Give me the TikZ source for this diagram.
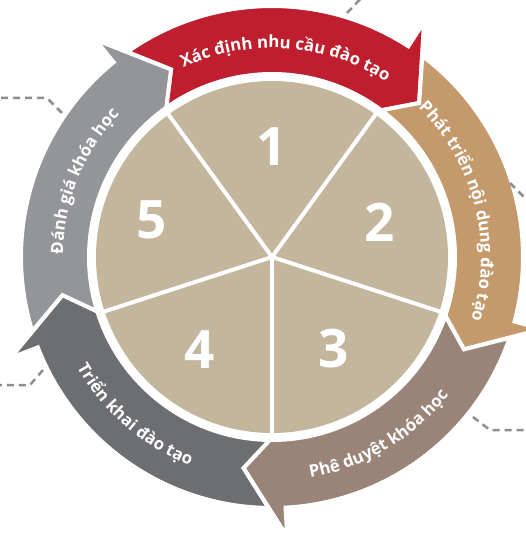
\documentclass[tikz,border=0pt]{standalone}
\usepackage{fontspec}
\setmainfont{Open Sans}
\usetikzlibrary{decorations.text}

\definecolor{redstep}{HTML}{BE1E2D}
\definecolor{tanstep}{HTML}{C49A6C}
\definecolor{brownstep}{HTML}{9A8478}
\definecolor{darkstep}{HTML}{6D6E71}
\definecolor{greystep}{HTML}{939598}
\definecolor{piefill}{HTML}{C4B59D}
\definecolor{leadgrey}{HTML}{8C8E91}

\newcommand{\bandfont}{\bfseries\fontsize{16.8}{17}\selectfont}

\tikzset{
x=1pt, y=1pt, % one unit is one pixel of the picture
band/.style={draw=white, line width=4pt, line join=miter}, % the five arrows round the pie
spoke/.style={draw=white, line width=4pt}, % white lines between the pie pieces
number/.style={text=white, font=\bfseries\fontsize{53}{53}\selectfont},
leader/.style={draw=leadgrey, line width=2.5pt, dash pattern=on 7pt off 5pt},
}

% one arrow of the cycle: #1 = angle of its tip, #2 = colour
\newcommand{\cyclearrow}[2]{%
  \pgfmathsetmacro{\tailangle}{#1+72}%
  \filldraw[band, fill=#2]
    ({\tailangle+6.9}:251) arc[start angle=\tailangle+6.9, end angle=#1+10.8, radius=251]
    -- ({#1+10.8}:280) -- (#1:213) -- ({#1+7}:183)
    arc[start angle=#1+7, end angle=\tailangle+7, radius=183]
    -- (\tailangle:213) -- cycle;
}

% text running clockwise (tops outward): #1 = centre angle, #2 = text
\newcommand{\cwlabel}[2]{%
  \path[decorate, decoration={text along path, text align=center, text color=white,
    text={|\bandfont|#2}}]
    ({#1+50}:209) arc[start angle=#1+50, end angle=#1-50, radius=209];
}
% text running anticlockwise (tops inward)
\newcommand{\ccwlabel}[2]{%
  \path[decorate, decoration={text along path, text align=center, text color=white,
    text={|\bandfont|#2}}]
    ({#1-50}:224) arc[start angle=#1-50, end angle=#1+50, radius=224];
}

\begin{document}
\begin{tikzpicture}

\useasboundingbox (-272,-281) rectangle (254,257);
\clip (-272,-281) rectangle (254,257);

\coordinate (centre) at (0,0);

% pie
\fill[piefill] (centre) circle[radius=176];
\foreach \a in {54,126,198,270,342}
  \draw[spoke] (centre) -- (\a:178);

\node[number] (n1) at (90:110) {1};
\node[number] (n2) at (18:113) {2};
\node[number] (n3) at (-56:111) {3};
\node[number] (n4) at (232:118) {4};
\node[number] (n5) at (163:126) {5};

% arrows
\cyclearrow{46.3}{redstep}
\cyclearrow{-25.7}{tanstep}
\cyclearrow{-97.7}{brownstep}
\cyclearrow{-169.7}{darkstep}
\cyclearrow{118.3}{greystep}

\cwlabel{86}{Xác định nhu cầu đào tạo}
\cwlabel{14}{Phát triển nội dung đào tạo}
\ccwlabel{-59}{Phê duyệt khóa học}
\ccwlabel{229}{Triển khai đào tạo}
\cwlabel{158}{Đánh giá khóa học}

% leaders to the notes outside
\coordinate (l1a) at (75,244);   \coordinate (l1b) at (95,265);
\coordinate (l2a) at (238,74);   \coordinate (l2b) at (262,50);
\coordinate (l3a) at (201,-160); \coordinate (l3b) at (218,-173); \coordinate (l3c) at (260,-173);
\coordinate (l4a) at (-229,-113); \coordinate (l4b) at (-242,-128); \coordinate (l4c) at (-280,-128);
\coordinate (l5a) at (-210,144); \coordinate (l5b) at (-225,159); \coordinate (l5c) at (-280,159);

\draw[leader] (l1a) -- (l1b);
\draw[leader] (l2a) -- (l2b);
\draw[leader] (l3a) -- (l3b) -- (l3c);
\draw[leader] (l4a) -- (l4b) -- (l4c);
\draw[leader] (l5a) -- (l5b) -- (l5c);

\end{tikzpicture}
\end{document}
